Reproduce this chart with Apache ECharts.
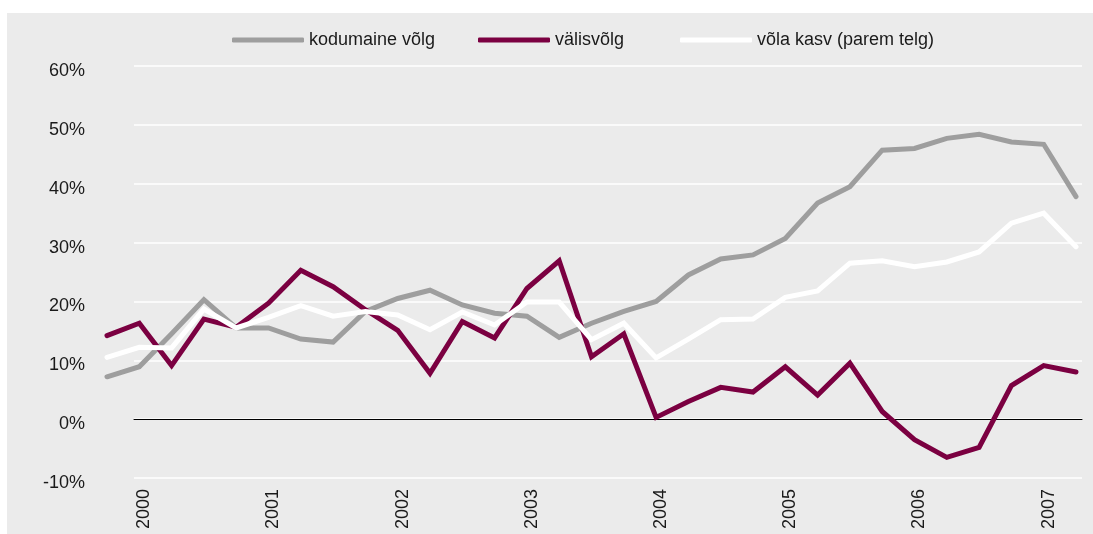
<!DOCTYPE html>
<html>
<head>
<meta charset="utf-8">
<script src="https://cdn.jsdelivr.net/npm/echarts@6/dist/echarts.min.js"></script>
<style>
    html, body { margin: 0; padding: 0; background: #fff; }
    #chart { width: 1093px; height: 534px; }
</style>
</head>
<body>
<div id="chart"></div>
<script>
// quarters, 1999 IV kv .. 2007 II kv
const quarters = [
    '1999 Q4',
    '2000 Q1', '2000 Q2', '2000 Q3', '2000 Q4',
    '2001 Q1', '2001 Q2', '2001 Q3', '2001 Q4',
    '2002 Q1', '2002 Q2', '2002 Q3', '2002 Q4',
    '2003 Q1', '2003 Q2', '2003 Q3', '2003 Q4',
    '2004 Q1', '2004 Q2', '2004 Q3', '2004 Q4',
    '2005 Q1', '2005 Q2', '2005 Q3', '2005 Q4',
    '2006 Q1', '2006 Q2', '2006 Q3', '2006 Q4',
    '2007 Q1', '2007 Q2'
];
const yearTicks = ['2000', '2001', '2002', '2003', '2004', '2005', '2006', '2007'];

const seriesNames = ['kodumaine võlg', 'välisvõlg', 'võla kasv (parem telg)'];
const kodumaine = [7.2, 8.9, 14.5, 20.3, 15.5, 15.5, 13.6, 13.1, 18.3, 20.5, 21.9, 19.4, 18.0, 17.5, 13.9, 16.3,
    18.3, 20.0, 24.5, 27.2, 27.9, 30.7, 36.7, 39.5, 45.7, 46.0, 47.7, 48.4, 47.1, 46.7, 37.8];
const valis = [14.2, 16.3, 9.1, 17.0, 15.6, 19.7, 25.3, 22.5, 18.6, 15.1, 7.8, 16.6, 13.8, 22.2, 26.9, 10.6,
    14.5, 0.3, 3.0, 5.4, 4.6, 8.9, 4.1, 9.5, 1.3, -3.5, -6.5, -4.8, 5.7, 9.1, 8.0];
const kasv = [10.5, 12.2, 12.1, 18.7, 15.5, 17.3, 19.3, 17.5, 18.3, 17.7, 15.2, 18.2, 16.0, 19.9, 19.9, 13.5,
    16.3, 10.4, 13.6, 16.9, 17.0, 20.7, 21.8, 26.5, 26.9, 25.9, 26.7, 28.4, 33.3, 35.0, 29.3];
const yTicks = [-10, 0, 10, 20, 30, 40, 50, 60];

const colors = ['#9e9e9e', '#7b0041', '#ffffff'];
const font = '"Liberation Sans", Arial, sans-serif';

const chart = echarts.init(document.getElementById('chart'));

const legendAt = (name, left) => ({
    data: [name],
    left: left,
    top: 30,
    padding: 0,
    icon: 'roundRect',
    itemWidth: 72,
    itemHeight: 5,
    itemGap: 0,
    selectedMode: false,
    textStyle: { fontFamily: font, fontSize: 18, color: '#1a1a1a', lineHeight: 20 }
});

const lineSeries = (name, data, color, yIdx) => ({
    name: name,
    type: 'line',
    data: data,
    xAxisIndex: 0,
    yAxisIndex: yIdx,
    symbol: 'none',
    color: color,
    lineStyle: { width: 5, color: color, cap: 'round', join: 'miter' },
    emphasis: { disabled: true }
});

const option = {
    animation: false,
    graphic: [{
        type: 'rect',
        z: -10,
        silent: true,
        shape: { x: 7, y: 13, width: 1086, height: 521 },
        style: { fill: '#ebebeb' }
    }],
    legend: [
        legendAt(seriesNames[0], 232),
        legendAt(seriesNames[1], 478),
        legendAt(seriesNames[2], 680)
    ],
    grid: [
        { left: 107, right: 17, top: 66, bottom: 56 },   // data
        { left: 134, right: 11, top: 66, bottom: 56 }    // gridlines + labels
    ],
    xAxis: [{
        type: 'category',
        gridIndex: 0,
        data: quarters,
        boundaryGap: false,
        axisLine: { show: false },
        axisTick: { show: false },
        splitLine: { show: false },
        axisLabel: {
            rotate: 90,
            margin: 11,
            verticalAlign: 'top',
            lineHeight: 10,
            interval: (idx, val) => yearTicks.includes(val.slice(0, 4)) && val.endsWith('Q1'),
            formatter: v => v.slice(0, 4),
            fontFamily: font,
            fontSize: 18,
            color: '#1a1a1a'
        }
    }, {
        type: 'value',
        gridIndex: 1,
        min: 0,
        max: 1,
        axisLine: { show: true, onZero: true, lineStyle: { color: '#000', width: 1 } },
        axisTick: { show: false },
        axisLabel: { show: false },
        splitLine: { show: false }
    }],
    yAxis: [{
        type: 'value',
        gridIndex: 0,
        min: yTicks[0],
        max: yTicks[yTicks.length - 1],
        show: false
    }, {
        // parem telg, same scale, not labelled in the original
        type: 'value',
        gridIndex: 0,
        position: 'right',
        min: yTicks[0],
        max: yTicks[yTicks.length - 1],
        show: false
    }, {
        type: 'value',
        gridIndex: 1,
        min: yTicks[0],
        max: yTicks[yTicks.length - 1],
        interval: 10,
        axisLine: { show: false },
        axisTick: { show: false },
        axisLabel: {
            margin: 49,
            verticalAlign: 'top',
            lineHeight: 10,
            formatter: '{value}%',
            fontFamily: font,
            fontSize: 18,
            color: '#1a1a1a'
        },
        splitLine: { show: true, lineStyle: { color: '#ffffff', width: 1.5 } }
    }],
    series: [
        lineSeries(seriesNames[0], kodumaine, colors[0], 0),
        lineSeries(seriesNames[1], valis, colors[1], 0),
        lineSeries(seriesNames[2], kasv, colors[2], 1)
    ]
};

chart.setOption(option);
</script>
</body>
</html>
